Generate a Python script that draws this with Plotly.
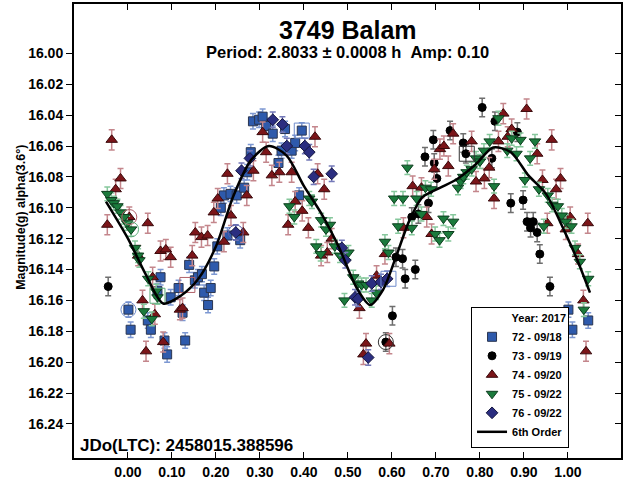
import plotly.graph_objects as go

# ---------------- data ----------------
p72 = [0.001,0.006,0.045,0.052,0.067,0.074,0.083,0.089,0.097,0.115,0.124,0.130,0.139,0.152,0.159,0.168,0.173,0.182,0.188,0.196,
       0.203,0.211,0.218,0.226,0.233,0.247,0.255,0.264,0.271,0.279,0.284,0.298,0.306,0.314,0.329,0.342,0.349,0.357,0.372,0.380,
       0.395,0.389,1.001,1.010,1.046]
m72 = [16.166,16.179,16.173,16.179,16.154,16.145,16.186,16.195,16.158,16.152,16.168,16.186,16.137,16.147,16.145,16.143,16.155,16.163,16.152,16.138,
       16.125,16.100,16.092,16.118,16.091,16.092,16.121,16.087,16.077,16.064,16.044,16.043,16.041,16.047,16.052,16.071,16.063,16.049,16.063,16.058,
       16.050,16.092,16.166,16.179,16.173]

p73 = [-0.045,0.586,0.601,0.609,0.624,0.630,0.653,0.645,0.660,0.683,0.675,0.694,0.696,0.702,0.732,0.762,0.768,0.805,0.834,0.827,
       0.885,0.870,0.898,0.907,0.921,0.915,0.930,0.936,0.959]
m73 = [16.151,16.187,16.170,16.132,16.133,16.146,16.140,16.106,16.104,16.097,16.067,16.056,16.071,16.081,16.050,16.058,16.065,16.035,16.044,16.068,
       16.051,16.097,16.095,16.109,16.109,16.113,16.116,16.130,16.151]

p74 = [-0.037,-0.017,-0.028,-0.047,0.003,0.045,0.023,0.033,0.041,0.056,
       0.061,0.074,0.086,0.080,0.097,0.118,0.124,0.146,0.153,0.167,
       0.181,0.195,0.204,0.218,0.226,0.234,0.262,0.270,0.285,0.306,
       0.314,0.327,0.344,0.372,0.425,0.431,0.446,0.380,0.396,0.364,
       0.410,0.463,0.453,0.439,0.526,0.541,0.535,0.565,0.584,0.594,
       0.626,0.647,0.667,0.679,0.690,0.709,0.696,0.728,0.718,0.739,
       0.781,0.791,0.810,0.821,0.832,0.842,0.853,0.863,0.872,0.906,
       0.930,0.942,0.963,0.973,0.983,0.953,1.005,0.995,1.045,1.023,
       1.035,1.041]
m74 = [16.056,16.081,16.088,16.111,16.106,16.110,16.131,16.160,16.193,16.145,
       16.169,16.128,16.127,16.187,16.132,16.166,16.165,16.131,16.116,16.119,
       16.118,16.103,16.094,16.122,16.078,16.105,16.116,16.092,16.076,16.051,
       16.064,16.079,16.077,16.077,16.054,16.078,16.088,16.096,16.102,16.111,
       16.113,16.120,16.129,16.131,16.165,16.188,16.195,16.144,16.130,16.188,
       16.113,16.086,16.087,16.106,16.117,16.062,16.075,16.073,16.060,16.052,
       16.057,16.083,16.081,16.074,16.094,16.057,16.039,16.054,16.049,16.036,
       16.065,16.082,16.056,16.088,16.081,16.110,16.106,16.114,16.110,16.130,
       16.160,16.193]

p75 = [-0.047,-0.038,-0.032,-0.024,-0.017,-0.009,-0.002,0.007,0.016,0.023,
       0.026,0.046,0.036,0.054,0.067,0.064,0.367,0.378,0.412,0.418,
       0.439,0.450,0.459,0.428,0.438,0.470,0.482,0.501,0.492,0.512,
       0.523,0.531,0.541,0.554,0.564,0.584,0.592,0.605,0.625,0.635,
       0.614,0.645,0.656,0.667,0.676,0.689,0.698,0.708,0.717,0.728,
       0.739,0.750,0.756,0.762,0.770,0.781,0.791,0.800,0.809,0.822,
       0.832,0.842,0.862,0.872,0.883,0.892,0.902,0.914,0.925,0.934,
       0.954,0.964,0.977,0.986,0.995,1.008,0.945,1.016,1.027,1.046,
       1.036]
m75 = [16.091,16.095,16.097,16.099,16.103,16.106,16.110,16.114,16.126,16.131,
       16.134,16.146,16.167,16.172,16.158,16.154,16.099,16.106,16.094,16.096,
       16.108,16.114,16.111,16.125,16.130,16.125,16.131,16.129,16.160,16.145,
       16.149,16.150,16.150,16.160,16.155,16.122,16.129,16.094,16.094,16.074,
       16.112,16.113,16.094,16.104,16.087,16.088,16.117,16.121,16.107,16.117,
       16.109,16.087,16.083,16.080,16.077,16.075,16.068,16.070,16.063,16.057,
       16.086,16.042,16.063,16.055,16.065,16.056,16.082,16.068,16.057,16.088,
       16.092,16.098,16.099,16.105,16.109,16.112,16.112,16.126,16.135,16.146,
       16.166]

p76 = [0.245,0.258,0.277,0.329,0.351,0.361,0.402,0.412,0.463,0.422,0.486,0.494,0.516,0.523,0.554,0.575,0.589,0.546]
m76 = [16.116,16.076,16.068,16.043,16.046,16.060,16.060,16.064,16.078,16.080,16.126,16.134,16.158,16.159,16.149,16.148,16.146,16.197]

err72, err73, err74, err75, err76 = 0.005, 0.006, 0.0065, 0.0045, 0.005

# highlighted (ringed / boxed) observations
hl_p = [0.001, 0.003, 0.007, 0.245, 0.586, 0.395, 0.770, 0.135, 0.592, 0.067]
hl_m = [16.166, 16.106, 16.114, 16.116, 16.187, 16.050, 16.065, 16.150, 16.146, 16.157]
hl_sym = ["circle-open"] * 5 + ["square-open"] * 5
hl_col = ["#6f8ccc", "#b06068", "#5fae7c", "#5a60a8", "#333333",
          "#6f8ccc", "#333333", "#b06068", "#6f8ccc", "#5fae7c"]

# 6th order Fourier fit
fit_p = [-0.05, 0.00, 0.04, 0.08, 0.12, 0.16, 0.20, 0.24, 0.28, 0.32, 0.36, 0.40, 0.44, 0.48, 0.52,
         0.55, 0.58, 0.61, 0.64, 0.67, 0.71, 0.75, 0.79, 0.83, 0.87, 0.91, 0.95, 0.99, 1.02, 1.05]
fit_m = [16.096, 16.120, 16.143, 16.162, 16.157, 16.146, 16.125, 16.092, 16.069, 16.060, 16.066, 16.086, 16.104, 16.126, 16.152,
         16.163, 16.153, 16.131, 16.108, 16.093, 16.087, 16.081, 16.072, 16.061, 16.064, 16.079, 16.091, 16.114, 16.133, 16.155]

x_ticks = [0.0, 0.1, 0.2, 0.3, 0.4, 0.5, 0.6, 0.7, 0.8, 0.9, 1.0]
y_ticks = [16.00, 16.02, 16.04, 16.06, 16.08, 16.10, 16.12, 16.14, 16.16, 16.18, 16.20, 16.22, 16.24]

FONT = "Liberation Sans, Arial, sans-serif"

fig = go.Figure()

def add_series(px, mg, err, name, symbol, size, fill, edge, barcol):
    fig.add_trace(go.Scatter(
        x=px, y=mg, mode="markers", name=name,
        marker=dict(symbol=symbol, size=size, color=fill, line=dict(color=edge, width=1)),
        error_y=dict(type="constant", value=err, color=barcol, thickness=1.5, width=3),
    ))

add_series(p72, m72, err72, "72 - 09/18", "square", 9, "#2E5AAC", "#2a3550", "#7d98d2")
add_series(p73, m73, err73, "73 - 09/19", "circle", 8, "#000000", "#000000", "#6e6e6e")
add_series(p74, m74, err74, "74 - 09/20", "triangle-up", 10, "#7B1519", "#3a0a0c", "#c4868c")
add_series(p75, m75, err75, "75 - 09/22", "triangle-down", 10, "#1B7A3C", "#0d3d1e", "#86c79c")
add_series(p76, m76, err76, "76 - 09/22", "diamond", 9, "#2B2E80", "#15173f", "#7479b8")

fig.add_trace(go.Scatter(
    x=hl_p, y=hl_m, mode="markers", showlegend=False, hoverinfo="skip",
    marker=dict(symbol=hl_sym, size=15, color=hl_col, line=dict(width=1)),
))

fig.add_trace(go.Scatter(
    x=fit_p, y=fit_m, mode="lines", name="6th Order",
    line=dict(color="black", width=2.5, shape="spline", smoothing=0.8),
))

# empty trace to carry the right-hand (inside) tick axis
fig.add_trace(go.Scatter(x=[], y=[], yaxis="y2", showlegend=False, hoverinfo="skip"))

y_range = [16.2621, 15.968]

fig.update_layout(
    width=623, height=480,
    margin=dict(l=74, r=2, t=4, b=22, autoexpand=False),
    paper_bgcolor="white", plot_bgcolor="white",
    font=dict(family=FONT, color="black", size=14, weight="bold"),
    showlegend=True,
    xaxis=dict(
        range=[-0.1227, 1.1205], tickvals=x_ticks, tickformat=".2f",
        ticks="inside", ticklen=6, tickwidth=1, tickcolor="black",
        showline=True, linecolor="black", linewidth=2, mirror="ticks",
        showgrid=False, zeroline=False, automargin=False,
        tickfont=dict(family=FONT, size=14, color="black", weight="bold"),
    ),
    yaxis=dict(
        range=y_range, tickvals=y_ticks, tickformat=".2f",
        ticks="outside", ticklen=6, tickwidth=1, tickcolor="black",
        showline=True, linecolor="black", linewidth=2, mirror=True,
        showgrid=False, zeroline=False, automargin=False,
        tickfont=dict(family=FONT, size=14, color="black", weight="bold"),
    ),
    yaxis2=dict(
        range=y_range, tickvals=y_ticks, overlaying="y", side="right",
        ticks="inside", ticklen=6, tickwidth=1, tickcolor="black",
        showticklabels=False, showgrid=False, zeroline=False, showline=False,
        automargin=False,
    ),
    legend=dict(
        x=0.905, y=0.022, xanchor="right", yanchor="bottom",
        bgcolor="white", bordercolor="black", borderwidth=1,
        font=dict(family=FONT, size=11, color="black", weight="bold"),
        title=dict(text="Year: 2017", side="top right",
                   font=dict(family=FONT, size=11, color="black", weight="bold")),
        tracegroupgap=0, itemwidth=30,
    ),
    annotations=[
        dict(text="3749 Balam", x=0.5, y=0.9427, xref="paper", yref="paper",
             showarrow=False, xanchor="center", yanchor="middle",
             font=dict(family=FONT, size=25, color="black", weight="bold")),
        dict(text="Period: 2.8033 ± 0.0008 h \u00a0Amp: 0.10", x=0.5, y=0.894,
             xref="paper", yref="paper", showarrow=False, xanchor="center", yanchor="middle",
             font=dict(family=FONT, size=16.5, color="black", weight="bold")),
        dict(text="JDo(LTC): 2458015.388596", x=0.008, y=0.028, xref="paper", yref="paper",
             showarrow=False, xanchor="left", yanchor="middle",
             font=dict(family=FONT, size=17, color="black", weight="bold")),
        dict(text="Magnitude(g) alpha(3.6°)", x=-0.097, y=0.531, xref="paper", yref="paper",
             showarrow=False, xanchor="center", yanchor="middle", textangle=-90,
             font=dict(family=FONT, size=12.5, color="black", weight="bold")),
    ],
)

fig.write_html("out.html")
